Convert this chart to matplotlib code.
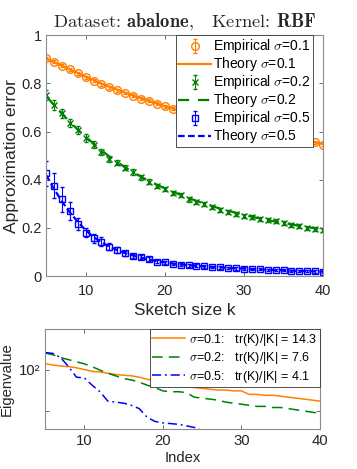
import numpy as np
import matplotlib
matplotlib.use("Agg")
import matplotlib.pyplot as plt
from matplotlib.ticker import FixedLocator, FixedFormatter, NullLocator

plt.rcParams['font.family'] = ['Liberation Sans', 'DejaVu Sans']
plt.rcParams['mathtext.fontset'] = 'cm'

# sketch sizes / eigenvalue index
k = list(range(5, 41))

# empirical approximation error (mean) and error bars
emp_01 = [0.905, 0.889, 0.874, 0.859, 0.841, 0.826, 0.811, 0.797, 0.784, 0.772, 0.760, 0.748,
          0.737, 0.727, 0.716, 0.704, 0.695, 0.686, 0.677, 0.668, 0.659, 0.651, 0.643, 0.635,
          0.627, 0.619, 0.611, 0.604, 0.597, 0.590, 0.583, 0.576, 0.569, 0.562, 0.555, 0.545]
emp_02 = [0.751, 0.710, 0.675, 0.636, 0.605, 0.573, 0.545, 0.514, 0.486, 0.471, 0.450, 0.432,
          0.410, 0.392, 0.374, 0.360, 0.346, 0.336, 0.318, 0.306, 0.300, 0.288, 0.275, 0.267,
          0.257, 0.250, 0.245, 0.236, 0.232, 0.227, 0.219, 0.211, 0.208, 0.200, 0.196, 0.191]
emp_05 = [0.426, 0.375, 0.318, 0.270, 0.215, 0.180, 0.156, 0.142, 0.122, 0.108, 0.094, 0.084,
          0.078, 0.069, 0.059, 0.057, 0.050, 0.047, 0.045, 0.042, 0.040, 0.038, 0.036, 0.034,
          0.032, 0.031, 0.029, 0.028, 0.026, 0.025, 0.024, 0.022, 0.021, 0.020, 0.019, 0.018]
err_01 = [0.006] * 36
err_02 = [0.020, 0.020, 0.018, 0.018, 0.016, 0.015, 0.014, 0.013, 0.012, 0.012, 0.011, 0.011,
          0.010, 0.010, 0.010, 0.009, 0.009, 0.009, 0.009, 0.008, 0.008, 0.008, 0.008, 0.008,
          0.008, 0.008, 0.008, 0.008, 0.008, 0.008, 0.008, 0.008, 0.008, 0.008, 0.008, 0.008]
err_05 = [0.052, 0.053, 0.052, 0.039, 0.025, 0.020, 0.020, 0.018, 0.015, 0.012, 0.010, 0.009,
          0.008, 0.008, 0.007, 0.007, 0.006, 0.006, 0.006, 0.006, 0.005, 0.005, 0.005, 0.005,
          0.005, 0.005, 0.005, 0.005, 0.005, 0.005, 0.005, 0.005, 0.005, 0.005, 0.005, 0.005]

# theoretical curves
th_01 = [0.903, 0.888, 0.873, 0.858, 0.843, 0.828, 0.813, 0.799, 0.786, 0.773, 0.761, 0.749,
         0.738, 0.727, 0.716, 0.705, 0.695, 0.686, 0.677, 0.668, 0.659, 0.651, 0.643, 0.635,
         0.627, 0.619, 0.611, 0.604, 0.597, 0.590, 0.583, 0.576, 0.569, 0.562, 0.555, 0.548]
th_02 = [0.748, 0.710, 0.674, 0.640, 0.608, 0.578, 0.550, 0.522, 0.496, 0.473, 0.451, 0.431,
         0.412, 0.395, 0.379, 0.364, 0.350, 0.337, 0.324, 0.312, 0.301, 0.290, 0.280, 0.271,
         0.262, 0.254, 0.246, 0.239, 0.232, 0.226, 0.220, 0.214, 0.208, 0.203, 0.198, 0.193]
th_05 = [0.420, 0.362, 0.310, 0.265, 0.225, 0.190, 0.162, 0.140, 0.122, 0.107, 0.095, 0.085,
         0.076, 0.068, 0.062, 0.057, 0.052, 0.048, 0.045, 0.042, 0.040, 0.038, 0.036, 0.034,
         0.032, 0.031, 0.029, 0.028, 0.026, 0.025, 0.024, 0.022, 0.021, 0.020, 0.019, 0.018]

# eigenvalues (index 5..40)
eig_01 = [110, 108, 106, 105, 103, 100, 97, 96, 94, 92, 91, 90, 88, 85, 83, 80, 79, 78,
          75, 74, 73, 72, 71, 71, 70, 70, 66, 66, 65, 65, 64, 63, 62, 61, 60, 59]
eig_02 = [132, 128, 122, 118, 114, 110, 105, 99, 94, 90, 86, 84, 81, 77, 74, 70, 69, 69,
          68, 63, 62, 61, 60, 58, 57, 56, 55, 54, 54, 53, 53, 52, 51, 50, 49, 48]
eig_05 = [133, 131, 122, 105, 88, 87, 77, 69, 59, 58, 57, 55, 52, 45, 42, 41, 40.5, 40,
          39, 38, 36, 35, 34, 33, 32, 31, 30.5, 30, 29.5, 29, 28.5, 28, 27.5, 27, 26.5, 26]
trace_ratio = [14.3, 7.6, 4.1]
sigmas = ['0.1', '0.2', '0.5']

orange = '#FF8000'
green = '#008000'
blue = '#0000FF'
spine_c = '#8c8c8c'
text_c = '#262626'

fig = plt.figure(figsize=(3.57, 4.69), dpi=100)

def style(ax, fs, xpad):
    for s in ax.spines.values():
        s.set_color(spine_c)
        s.set_linewidth(0.8)
    ax.tick_params(direction='in', length=3, width=0.6, top=True, right=True,
                   labelsize=fs, colors=text_c, color='#555555', pad=3)
    ax.tick_params(axis='x', pad=xpad)

# ---- top panel ----
ax = fig.add_axes([0.129, 0.4115, 0.776, 0.5135])
h = []
for emp, err, th, c, mk, ms, ls, s in [(emp_01, err_01, th_01, orange, 'o', 5.5, '-', '0.1'),
                                        (emp_02, err_02, th_02, green, 'x', 4.5, (0, (5, 4)), '0.2'),
                                        (emp_05, err_05, th_05, blue, 's', 5, (0, (3, 1.5)), '0.5')]:
    e = ax.errorbar(k, emp, yerr=err, fmt=mk, color=c, mfc='none', mec=c, ms=ms,
                    mew=1.0, elinewidth=0.8, capsize=1.5, capthick=0.8,
                    label=r'Empirical $\sigma$=' + s)
    l, = ax.plot(k, th, color=c, lw=1.6, linestyle=ls, label=r'Theory $\sigma$=' + s)
    h += [e, l]
ax.set_xlim(5, 40)
ax.set_ylim(0, 1)
ax.set_xticks([10, 20, 30, 40])
ax.set_yticks([0, 0.2, 0.4, 0.6, 0.8, 1])
ax.set_yticklabels(['0', '0.2', '0.4', '0.6', '0.8', '1'])
style(ax, 10.5, 5.5)
ax.set_xlabel('Sketch size k', fontsize=12.3, color=text_c, labelpad=4)
ax.set_ylabel('Approximation error', fontsize=12.6, color=text_c, labelpad=2)
leg = ax.legend(handles=h, loc='upper right', bbox_to_anchor=(0.964, 1.0),
                borderaxespad=0, fontsize=10, frameon=True, fancybox=False,
                framealpha=1, edgecolor='#333333', handlelength=2.4,
                handletextpad=0.15, labelspacing=0.0, borderpad=0.15,
                handleheight=0.6)
leg.get_frame().set_linewidth(0.6)

fig.text(184.5 / 357, 1 - 22 / 469,
         r'Dataset: $\mathbf{abalone}$,   Kernel: $\mathbf{RBF}$',
         family='cmr10', ha='center', va='center', fontsize=13.3, color=text_c)

# ---- bottom panel ----
bx = fig.add_axes([0.126, 0.0853, 0.77, 0.2132])
for eig, c, ls, s, tr in [(eig_01, orange, '-', sigmas[0], trace_ratio[0]),
                          (eig_02, green, (0, (7, 4)), sigmas[1], trace_ratio[1]),
                          (eig_05, blue, (0, (6, 2.5, 1.2, 2.5)), sigmas[2], trace_ratio[2])]:
    bx.plot(k, eig, color=c, lw=1.1, linestyle=ls,
            label=r'$\sigma$=' + s + ':   tr(K)/|K| = ' + str(tr))
bx.set_yscale('log')
bx.set_xlim(5, 40)
bx.set_ylim(37, 197)
bx.set_xticks([10, 20, 30, 40])
bx.yaxis.set_major_locator(FixedLocator([50, 100, 200]))
bx.yaxis.set_major_formatter(FixedFormatter(['', '10\u00b2', '']))
bx.yaxis.set_minor_locator(NullLocator())
style(bx, 10.7, 3.5)
bx.set_xlabel('Index', fontsize=10.7, color=text_c, labelpad=2)
bx.set_ylabel('Eigenvalue', fontsize=10.7, color=text_c, labelpad=4)
leg2 = bx.legend(loc='upper right', bbox_to_anchor=(1.0, 1.0), borderaxespad=0,
                 fontsize=9, frameon=True, fancybox=False, framealpha=1,
                 edgecolor='#333333', handlelength=2.6, handletextpad=0.35,
                 labelspacing=0.2, borderpad=0.2)
leg2.get_frame().set_linewidth(0.6)

fig.savefig('out.png', dpi=100)
